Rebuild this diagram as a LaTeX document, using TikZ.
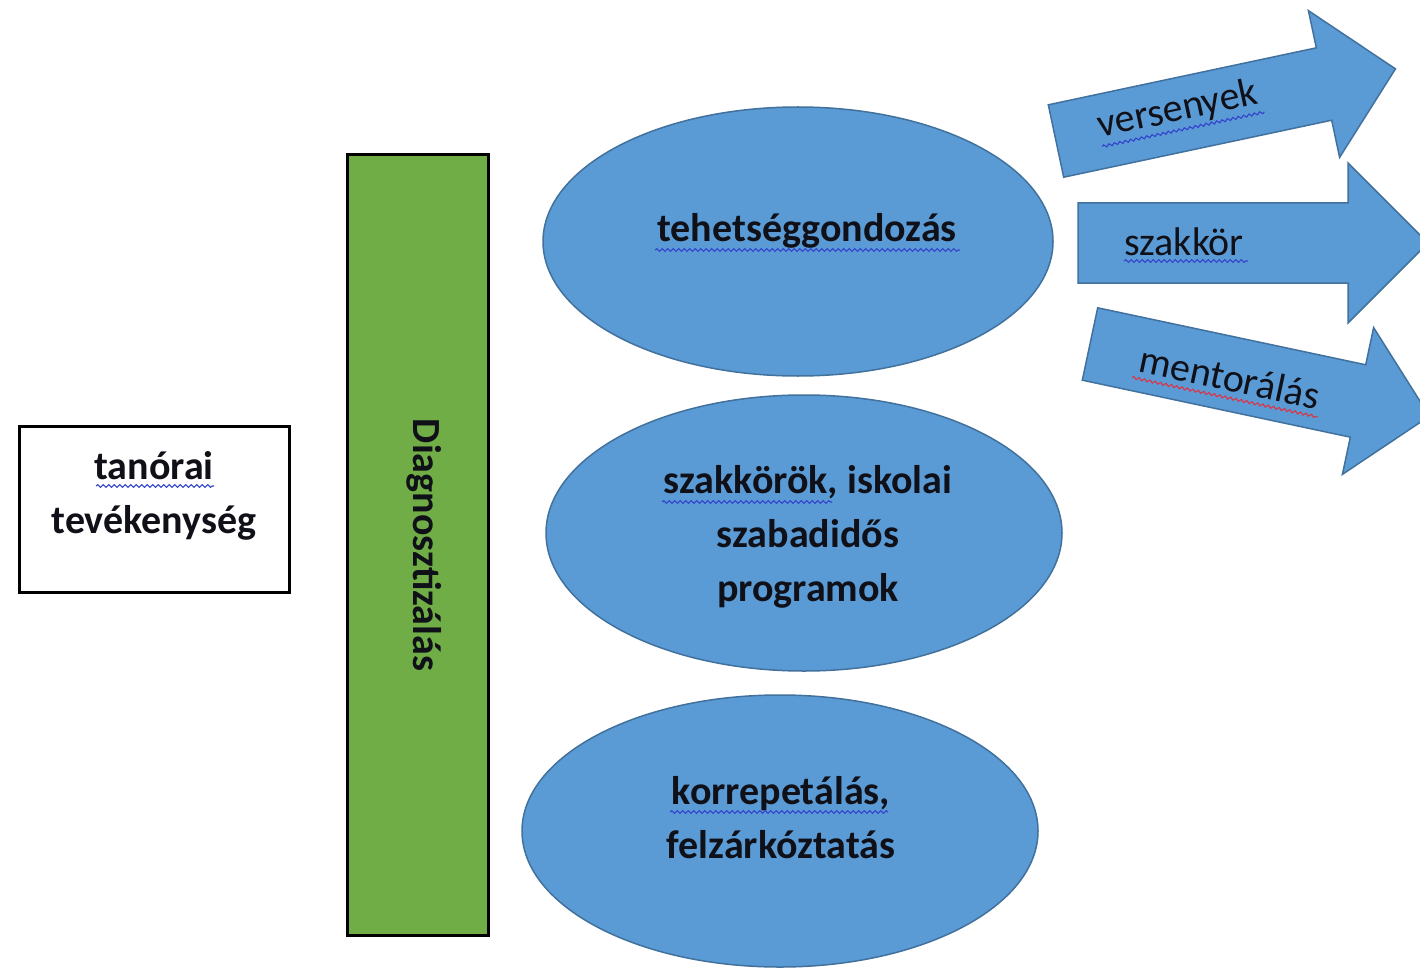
\documentclass[tikz,border=0pt]{standalone}
\usepackage{fontspec}
\setmainfont{Carlito}
\usetikzlibrary{shapes.geometric,decorations.pathmorphing}
\definecolor{fillblue}{HTML}{5B9BD5}
\definecolor{edgeblue}{HTML}{41719C}
\definecolor{diaggreen}{HTML}{70AD47}
\definecolor{squigblue}{HTML}{3344CC}
\definecolor{squigred}{HTML}{DD3344}
\definecolor{inkdark}{HTML}{101018}
\begin{document}
\begin{tikzpicture}[x=1pt,y=-1pt,
  bigtext/.style={font=\fontsize{40}{54}\selectfont\bfseries, text=inkdark, align=center, inner sep=0pt, anchor=base},
  arrowtext/.style={font=\fontsize{40}{48}\selectfont, text=inkdark, inner sep=0pt, anchor=base west, transform shape},
  oval/.style={ellipse, fill=fillblue, draw=edgeblue, line width=1.5pt, inner sep=0pt},
  blockarrow/.style={fill=fillblue, draw=edgeblue, line width=1.5pt, line join=miter},
  squig/.style={decorate, decoration={snake, amplitude=1.3pt, segment length=5.5pt}, line width=1.1pt, draw=squigblue},
  squigr/.style={squig, draw=squigred}
]
\useasboundingbox (0,0) rectangle (1420,968);
\clip (0,0) rectangle (1420,968);
\fill[white] (0,0) rectangle (1420,968);

% left box
\node[draw=black, line width=3pt, minimum width=270pt, minimum height=166pt, inner sep=0pt] (tbox) at (154,509) {};
\node[bigtext] (tanorai) at (154,533) {tanórai\\tevékenység};
\coordinate (sq1a) at (96,486); \coordinate (sq1b) at (214,486);
\draw[squig] (sq1a) -- (sq1b);

% green bar
\node[fill=diaggreen, draw=black, line width=3pt, minimum width=141pt, minimum height=780pt, inner sep=0pt] (diag) at (417.5,545) {};
\node[font=\fontsize{40}{48}\selectfont\bfseries, text=inkdark, inner sep=0pt, rotate=-90] (diagtext) at (424,545) {Diagnosztizálás};

% ellipses
\node[oval, minimum width=510pt, minimum height=269pt] (e1) at (798,241.5) {};
\node[oval, minimum width=516pt, minimum height=276pt] (e2) at (804,533) {};
\node[oval, minimum width=516pt, minimum height=272pt] (e3) at (780,831) {};

\node[bigtext] (t1) at (807,242) {tehetséggondozás};
\coordinate (sq2a) at (655,250); \coordinate (sq2b) at (960,250);
\draw[squig] (sq2a) -- (sq2b);

\node[bigtext] (t2) at (808,601) {szakkörök, iskolai\\szabadidős\\programok};
\coordinate (sq3a) at (662,502); \coordinate (sq3b) at (832,502);
\draw[squig] (sq3a) -- (sq3b);

\node[bigtext] (t3) at (781,858) {korrepetálás,\\felzárkóztatás};
\coordinate (sq4a) at (670,812); \coordinate (sq4b) at (888,812);
\draw[squig] (sq4a) -- (sq4b);

% block arrows
\begin{scope}[shift={(1056,141)}, rotate=12]
  \draw[blockarrow] (0,-37) -- (274,-37) -- (274,-75) -- (347,0) -- (274,75) -- (274,37) -- (0,37) -- cycle;
  \node[arrowtext] (a1) at (44,6) {versenyek};
  \coordinate (sq5a) at (44,15); \coordinate (sq5b) at (210,15);
  \draw[squig] (sq5a) -- (sq5b);
\end{scope}

\begin{scope}[shift={(1078,243)}]
  \draw[blockarrow] (0,-40) -- (270,-40) -- (270,-80) -- (350,0) -- (270,80) -- (270,40) -- (0,40) -- cycle;
  \node[arrowtext] (a2) at (46,12) {szakkör};
  \coordinate (sq6a) at (46,18); \coordinate (sq6b) at (170,18);
  \draw[squig] (sq6a) -- (sq6b);
\end{scope}

\begin{scope}[shift={(1090,344)}, rotate=-12]
  \draw[blockarrow] (0,-37) -- (274,-37) -- (274,-75) -- (347,0) -- (274,75) -- (274,37) -- (0,37) -- cycle;
  \node[arrowtext] (a3) at (52,17) {mentorálás};
  \coordinate (sq7a) at (48,24); \coordinate (sq7b) at (238,24);
  \draw[squigr] (sq7a) -- (sq7b);
\end{scope}
\end{tikzpicture}
\end{document}
